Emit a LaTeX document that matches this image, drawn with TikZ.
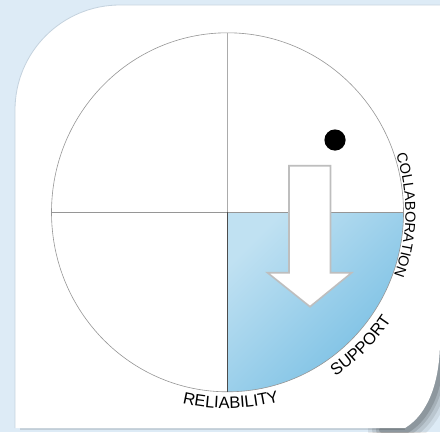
\documentclass[tikz,border=0pt]{standalone}
\usepackage{fontspec}
\newfontfamily\labfont{Liberation Sans}
\usetikzlibrary{decorations.text}
\definecolor{bgblue}{RGB}{221,235,246}
\definecolor{quadlight}{RGB}{192,225,242}
\definecolor{quaddark}{RGB}{118,190,227}
\definecolor{cardedge}{RGB}{196,210,222}
\definecolor{gridgray}{RGB}{150,150,150}
\definecolor{arrowgray}{RGB}{190,190,190}
\tikzset{
  gridline/.style={draw=gridgray, line width=0.7bp},
  curvedlabel/.style={decorate, decoration={text along path, text align=center, text={#1}}},
}
\begin{document}
\begin{tikzpicture}[x=1bp,y=1bp]
\useasboundingbox (0,0) rectangle (440,432);
\fill[bgblue] (0,0) rectangle (440,432);
% shadow of the curled corner
\foreach \w/\o in {28/0.07,20/0.09,12/0.11,6/0.14}{
  \draw[black, opacity=\o, line width=\w bp, line cap=round]
    ([shift={(2,-2)}]440,100) -- ([shift={(2,-2)}]440,92) .. controls ([shift={(2,-2)}]440,50) and ([shift={(2,-2)}]428,18) .. ([shift={(2,-2)}]405,4) -- ([shift={(2,-2)}]380,4);
}
\draw[black, opacity=0.12, line width=2bp] (20,3) -- (405,3);
% card
\coordinate (cardA) at (15,4);
\fill[white] (cardA) -- (15,322) arc[start angle=180, end angle=90, radius=105] -- (440,427) -- (440,92)
  .. controls (440,50) and (428,18) .. (405,4) -- cycle;
\draw[cardedge, line width=0.8bp] (15,4) -- (15,322) arc[start angle=180, end angle=90, radius=105] -- (440,427);
% circle
\coordinate (C) at (227.5,219.7);
\shade[top color=quadlight, bottom color=quaddark, shading angle=45]
  (C) -- ++(176,0) arc[start angle=0, end angle=-90, x radius=176, y radius=179.5] -- cycle;
\draw[gridgray, line width=0.6bp] (C) ellipse[x radius=176, y radius=179.5];
\coordinate (L) at (51.5,219.7);
\coordinate (R) at (403.5,219.7);
\coordinate (T) at (227.5,399.2);
\coordinate (B) at (227.5,40.2);
\draw[gridline] (L) -- (R);
\draw[gridline, draw=gridgray!80] (C) -- (T);
\draw[draw=black!70, line width=0.8bp] (C) -- (B);
% arrow
\draw[fill=white, draw=arrowgray, line width=1.6bp, line join=miter]
  (289,266.3) -- (330.5,266.3) -- (330.5,159.3) -- (351.7,159.3) -- (310,125.3) -- (267.5,159.3) -- (289,159.3) -- cycle;
% dot
\fill[black] (335,292) circle[radius=10.6];
% labels
\path[curvedlabel={|\labfont\fontsize{16.5bp}{19bp}\selectfont|RELIABILITY}]
  (C) ++(-122:196) arc[start angle=-122, end angle=-56, radius=196];
\path[curvedlabel={|\labfont\fontsize{16.5bp}{19bp}\selectfont|SUPPORT}]
  (C) ++(-78:196) arc[start angle=-78, end angle=-12, radius=196];
\path[curvedlabel={|\labfont\fontsize{14.5bp}{17bp}\selectfont|COLLABORATION}]
  (C) ++(40:178) arc[start angle=40, end angle=-42, radius=178];
\end{tikzpicture}
\end{document}
